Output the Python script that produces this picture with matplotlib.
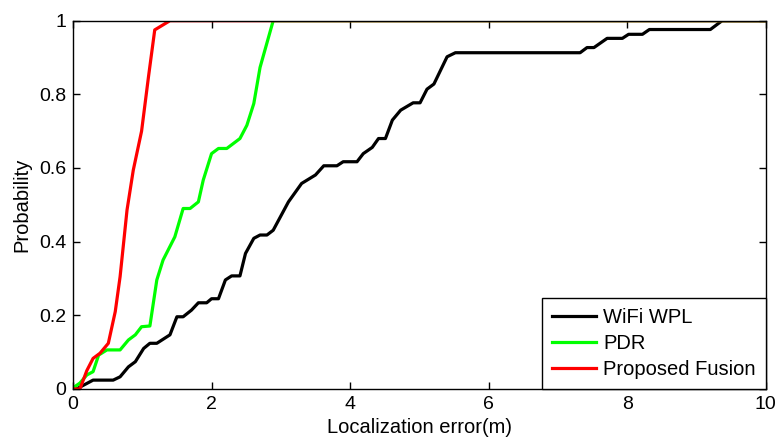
import numpy as np
import matplotlib
matplotlib.use('Agg')
import matplotlib.pyplot as plt

plt.rcParams['font.family'] = ['Liberation Sans', 'DejaVu Sans']

# CDF curves
wifi_x = [0.05, 0.29, 0.58, 0.68, 0.80, 0.90, 1.02, 1.11, 1.21, 1.40, 1.50, 1.59, 1.71, 1.81,
          1.93, 2.00, 2.10, 2.20, 2.29, 2.41, 2.49, 2.61, 2.70, 2.80, 2.89, 3.11, 3.30, 3.50,
          3.62, 3.81, 3.90, 4.10, 4.19, 4.32, 4.41, 4.51, 4.61, 4.73, 4.91, 5.01, 5.11, 5.21,
          5.40, 5.52, 7.32, 7.42, 7.52, 7.71, 7.93, 8.02, 8.22, 8.32, 9.20, 9.37, 10.0]
wifi_y = [0.0, 0.024, 0.024, 0.033, 0.06, 0.074, 0.11, 0.124, 0.124, 0.147, 0.196, 0.196, 0.214, 0.234,
          0.234, 0.245, 0.245, 0.296, 0.307, 0.307, 0.368, 0.409, 0.418, 0.418, 0.431, 0.508, 0.558, 0.581,
          0.606, 0.606, 0.617, 0.617, 0.639, 0.656, 0.68, 0.68, 0.73, 0.757, 0.777, 0.777, 0.814, 0.828,
          0.902, 0.913, 0.913, 0.927, 0.927, 0.952, 0.952, 0.963, 0.963, 0.976, 0.976, 1.0, 1.0]

pdr_x = [0.0, 0.10, 0.20, 0.29, 0.37, 0.49, 0.68, 0.80, 0.90, 0.99, 1.11, 1.21, 1.30, 1.47,
         1.59, 1.69, 1.81, 1.88, 2.00, 2.10, 2.22, 2.41, 2.51, 2.61, 2.70, 2.89, 10.0]
pdr_y = [0.003, 0.016, 0.038, 0.047, 0.092, 0.106, 0.106, 0.133, 0.147, 0.169, 0.171, 0.296, 0.35, 0.413,
         0.49, 0.49, 0.508, 0.567, 0.639, 0.653, 0.653, 0.68, 0.716, 0.775, 0.873, 1.0, 1.0]

fusion_x = [0.03, 0.10, 0.20, 0.29, 0.39, 0.51, 0.61, 0.68, 0.78, 0.87, 0.99, 1.09, 1.18, 1.40, 10.0]
fusion_y = [0.0, 0.0, 0.05, 0.083, 0.097, 0.124, 0.21, 0.305, 0.486, 0.594, 0.70, 0.848, 0.975, 1.0, 1.0]

fig = plt.figure(figsize=(7.79, 4.40), dpi=100)
ax = fig.add_axes([0.0937, 0.116, 0.8893, 0.837])

ax.plot(wifi_x, wifi_y, color='black', lw=2.3, label='WiFi WPL')
ax.plot(pdr_x, pdr_y, color='#00ff00', lw=2.3, label='PDR')
ax.plot(fusion_x, fusion_y, color='#ff0000', lw=2.3, label='Proposed Fusion')

ax.set_xlim(0, 10)
ax.set_ylim(0, 1)
ax.set_xticks(np.arange(0, 11, 2))
ax.set_yticks([0, 0.2, 0.4, 0.6, 0.8, 1])
ax.set_yticklabels(['0', '0.2', '0.4', '0.6', '0.8', '1'])
ax.tick_params(direction='in', top=True, right=True, labelsize=14, length=5, width=1, pad=5)
for s in ax.spines.values():
    s.set_linewidth(1)

ax.set_xlabel('Localization error(m)', fontsize=14.5, labelpad=4)
ax.set_ylabel('Probability', fontsize=14.5, labelpad=5)

leg = ax.legend(loc='lower right', fontsize=14.5, fancybox=False, edgecolor='black',
                borderaxespad=0, framealpha=1, handlelength=2.2, handletextpad=0.35,
                labelspacing=0.35, borderpad=0.5)
leg.get_frame().set_linewidth(1)

plt.savefig('out.png', dpi=100)
